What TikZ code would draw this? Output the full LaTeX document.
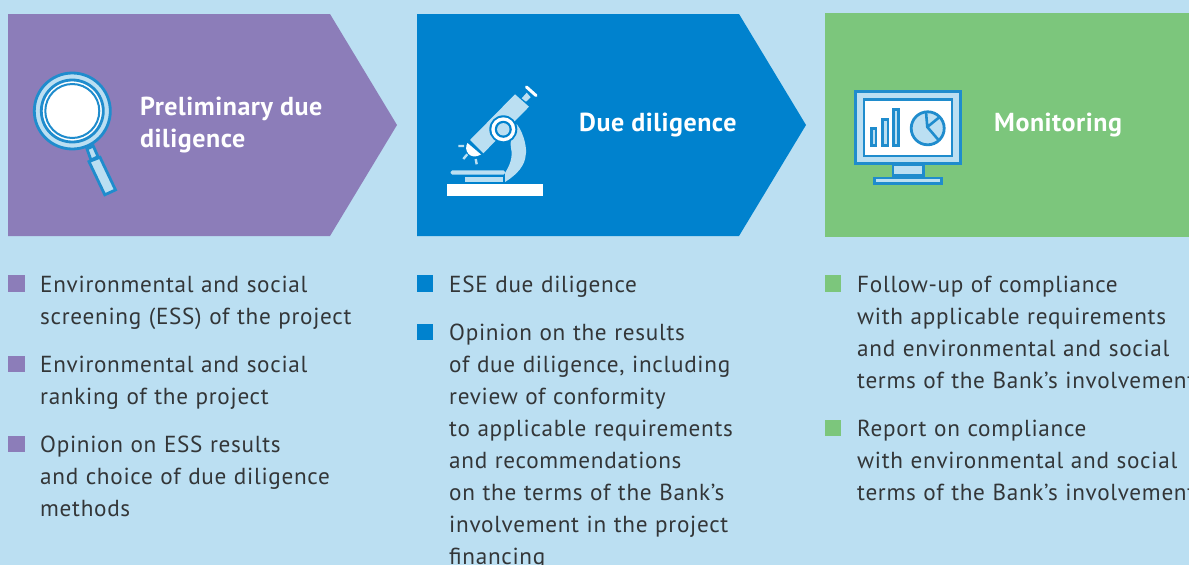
\documentclass[tikz,border=0pt]{standalone}
\usepackage{fontspec}
\setmainfont{PT Sans}
\newfontfamily\itemfont[LetterSpace=3,WordSpace=1.1]{PT Sans}
\newfontfamily\headfont[LetterSpace=2,BoldFont={PT Sans Bold}]{PT Sans}
\definecolor{bgc}{HTML}{BBDFF2}
\definecolor{purp}{HTML}{8C7DB9}
\definecolor{blu}{HTML}{0082CE}
\definecolor{grn}{HTML}{7CC67C}
\definecolor{icon}{HTML}{1F8CCD}
\definecolor{lite}{HTML}{BBDFF2}
\definecolor{txt}{HTML}{333638}
\tikzset{
 head/.style={anchor=base west,inner sep=0pt,align=left,font=\fontsize{26}{32}\selectfont\headfont\bfseries,text=white},
 item/.style={anchor=north west,inner sep=0pt,align=left,font=\fontsize{23.2}{32}\selectfont\itemfont,text=txt},
 bul/.style={minimum size=16.7pt,inner sep=0pt,anchor=north west},
 ic/.style={draw=icon,line width=2.8pt,fill=lite},
 icw/.style={draw=icon,line width=2.8pt,fill=white},
 ml/.style={fill=lite,draw=none},
}
\begin{document}
\begin{tikzpicture}[x=1pt,y=-1pt]
\useasboundingbox (0,0) rectangle (1189,565);
\clip (0,0) rectangle (1189,565);
\fill[bgc] (0,0) rectangle (1189,565);
% panels
\fill[purp] (8,14) -- (330,14) -- (397,125) -- (330,236) -- (8,236) -- cycle;
\fill[blu] (417,14) -- (739,14) -- (806,125) -- (739,236) -- (417,236) -- cycle;
\fill[grn] (825,13) rectangle (1189,237);
% magnifier
\draw[ic] (87,149) -- (93.3,146) -- (98,156.7) -- (91,160) -- cycle;
\draw[ic] (89,161.6) -- (100,157.3) -- (115.5,189.9) -- (104.8,194.8) -- cycle;
\draw[ic] (72.3,111) circle (38);
\draw[icw] (72.3,111) circle (31);
\draw[draw=icon,line width=2pt,fill=white] (72.3,111) circle (27);
% microscope
\fill[white] (446.7,184.3) rectangle (542.7,196);
\fill[ml,rounded corners=1.5pt] (450.7,170.3) rectangle (505,174.7);
\fill[ml] (465,176.7) rectangle (503.3,181.7);
% arm
\fill[ml] (516.7,124) .. controls (525,135) and (527,150) .. (525.7,155) .. controls (525,165) and (518,174) .. (505,182) -- (505,173) .. controls (510,165) and (513,157) .. (511,148) .. controls (510,143) and (511,138) .. (513,135) -- cycle;
% tube
\fill[ml] (470,140) -- (515,94.3) -- (529,106.7) -- (483.3,153.3) -- cycle;
% objective
\fill[white] (467.5,143) .. controls (463,150) and (470,161) .. (481,154.5) -- cycle;
% eyepiece
\fill[ml] (521.7,98.3) -- (526.7,92.7) -- (530.7,97.3) -- (526,101.7) -- cycle;
\draw[white,line width=3pt,line cap=round] (526.5,87) -- (536,95.5);
% ring
\fill[blu] (503.3,129.3) circle (14);
\fill[white] (503.3,129.3) circle (12);
\fill[blu] (503.3,129.3) circle (8.5);
\fill[ml] (503.3,129.3) circle (6.2);
% rays
\draw[draw=lite,line width=2.4pt] (458.3,146) -- (464,146) (463.3,159) -- (467.3,154.3) (475.7,159) -- (476.7,164.3);
% monitor
\draw[ic] (893,165) rectangle (923.6,175.3);
\draw[ic] (874.7,178) rectangle (941.3,183.6);
\draw[ic] (855.4,91.4) rectangle (960.3,163.6);
\draw[icw] (864,99.7) rectangle (952,156);
\draw[ic] (871.4,128.7) rectangle (875.9,145.3);
\draw[ic] (882.4,119.1) rectangle (887.9,145.3);
\draw[ic] (893.7,109.7) rectangle (898.6,145.3);
\draw[ic] (927.7,128.3) circle (16.5);
\draw[draw=icon,line width=2.6pt] (926,112) -- (927.3,127) -- (938.5,140) (927.3,127) -- (939,117.5);
% headings
\node[head] (h1) at (140,115) {Preliminary due};
\node[head] (h1b) at (140,147) {diligence};
\node[head] (h2) at (579,131) {Due diligence};
\node[head] (h3) at (994,131) {Monitoring};
% bullets
\node[bul,fill=purp] (b1) at (8,275) {};
\node[bul,fill=purp] (b2) at (8,355.5) {};
\node[bul,fill=purp] (b3) at (8,435.5) {};
\node[bul,fill=blu] (b4) at (416.5,275) {};
\node[bul,fill=blu] (b5) at (416.5,323.5) {};
\node[bul,fill=grn] (b6) at (824.5,275) {};
\node[bul,fill=grn] (b7) at (824.5,419.5) {};
% items
\node[item] (t1) at (40,275.6) {Environmental and social\\screening (ESS) of the project};
\node[item] (t2) at (40,355.6) {Environmental and social\\ranking of the project};
\node[item] (t3) at (40,435.6) {Opinion on ESS results\\and choice of due diligence\\methods};
\node[item] (t4) at (449,275.6) {ESE due diligence};
\node[item] (t5) at (449,323.6) {Opinion on the results\\of due diligence, including\\review of conformity\\to applicable requirements\\and recommendations\\on the terms of the Bank’s\\involvement in the project\\financing};
\node[item] (t6) at (857,275.6) {Follow-up of compliance\\with applicable requirements\\and environmental and social\\terms of the Bank’s involvement};
\node[item] (t7) at (857,419.6) {Report on compliance\\with environmental and social\\terms of the Bank’s involvement};
\end{tikzpicture}
\end{document}
